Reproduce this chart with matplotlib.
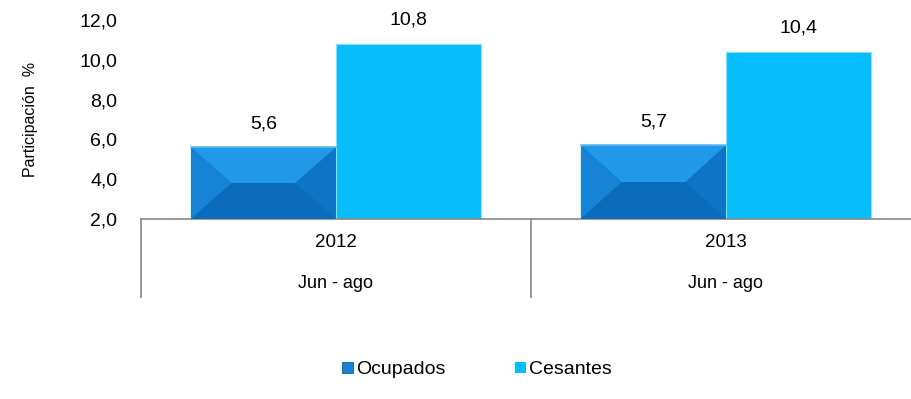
import matplotlib.pyplot as plt
import matplotlib.transforms as mtransforms
from matplotlib.patches import Polygon, Patch
from matplotlib.lines import Line2D
import numpy as np

years = ["2012", "2013"]
period = ["Jun - ago", "Jun - ago"]
ocupados = [5.6, 5.7]
cesantes = [10.8, 10.4]
yticks = [2.0, 4.0, 6.0, 8.0, 10.0, 12.0]

plt.rcParams["font.family"] = ["Liberation Sans", "DejaVu Sans"]

fig = plt.figure(figsize=(9.12, 3.99), dpi=100)
ax = fig.add_axes([141 / 912, 180 / 399, 780 / 912, 199 / 399])

x = np.arange(len(years))
w = 0.372
bars_o = ax.bar(x - w / 2, np.array(ocupados) - 2, w, bottom=2, color="#0b6fbf",
                edgecolor="#b5b5b5", linewidth=0.8, zorder=2)
bars_c = ax.bar(x + w / 2, np.array(cesantes) - 2, w, bottom=2, color="#07bdfc",
                edgecolor="#8fdcfb", linewidth=0.8, zorder=2)

# bevelled look for the Ocupados bars
for b in bars_o:
    x0, y0 = b.get_x(), b.get_y()
    x1, y1 = x0 + b.get_width(), y0 + b.get_height()
    dx = 0.28 * b.get_width()
    ym = y1 - 0.5 * b.get_height()
    il, ir = (x0 + dx, ym), (x1 - dx, ym)
    faces = [
        ([(x0, y1), (x1, y1), ir, il], "#2198e8"),
        ([(x0, y1), il, (x0, y0)], "#1683d6"),
        ([(x1, y1), (x1, y0), ir], "#0e74c6"),
        ([(x0, y0), il, ir, (x1, y0)], "#0a6cba"),
    ]
    for pts, c in faces:
        ax.add_patch(Polygon(pts, closed=True, facecolor=c, edgecolor="none", zorder=3))
    ax.plot([x0, x1], [y1, y1], color="#5cb8f2", lw=1.2, zorder=4)

for bars, vals in ((bars_o, ocupados), (bars_c, cesantes)):
    for b, v in zip(bars, vals):
        ax.text(b.get_x() + b.get_width() / 2, v + 0.75, f"{v:.1f}".replace(".", ","),
                ha="center", va="bottom", fontsize=14)

ax.set_xlim(-0.5, 1.5)
ax.set_ylim(2, 12)
ax.set_yticks(yticks)
ax.set_yticklabels([f"{t:.1f}".replace(".", ",") for t in yticks], fontsize=14)
ax.tick_params(axis="y", length=0, pad=17)
ax.set_xticks([])
for s in ("top", "right", "left"):
    ax.spines[s].set_visible(False)
ax.spines["bottom"].set_color("#888888")
ax.spines["bottom"].set_linewidth(1.2)
ax.set_ylabel("Participación  %", fontsize=11.5, labelpad=30)

# two-level category axis below the plot
trans = mtransforms.blended_transform_factory(ax.transData, ax.transAxes)
for xb in (-0.5, 0.5, 1.5):
    ax.add_line(Line2D([xb, xb], [0, -0.392], transform=trans, color="#888888",
                       lw=1.2, clip_on=False))
for xi, yr, pr in zip(x, years, period):
    ax.text(xi, -0.12, yr, transform=trans, ha="center", va="center", fontsize=13.5)
    ax.text(xi, -0.322, pr, transform=trans, ha="center", va="center", fontsize=13)

handles = [Patch(facecolor="#1a7fd0", edgecolor="#0a5fa8", lw=0.6, label="Ocupados"),
           Patch(facecolor="#07bdfc", label="Cesantes")]
fig.legend(handles=handles, loc="center", bbox_to_anchor=(0.523, 0.073), ncol=2,
           frameon=False, fontsize=14, handlelength=0.55, handleheight=0.55,
           handletextpad=0.15, columnspacing=3.6)

fig.savefig("out.png", dpi=100)
